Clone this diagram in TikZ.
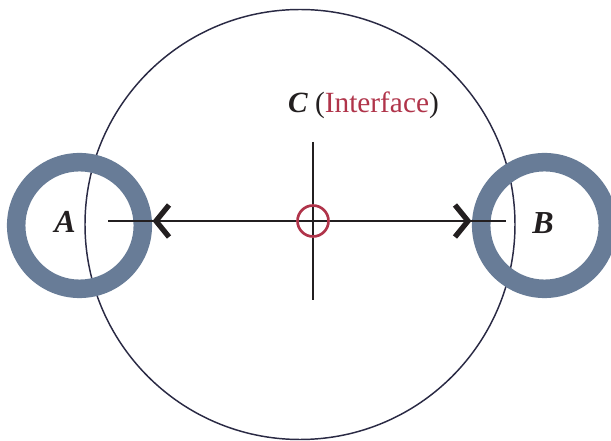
\documentclass[tikz,border=0pt]{standalone}
\usepackage{fontspec}
\setmainfont{Liberation Serif}
\definecolor{ringblue}{HTML}{687C97}
\definecolor{ifred}{HTML}{B0344A}
\definecolor{navy}{HTML}{2A2A44}
\definecolor{ink}{HTML}{231F20}

\begin{document}
\begin{tikzpicture}[x=0.75pt,y=-0.75pt,
  ring/.style={draw=ringblue,line width=13.9pt},
  axis/.style={draw=ink,line width=1.8pt},
  barb/.style={draw=ink,line width=4pt,miter limit=4},
  lbl/.style={font=\fontsize{24}{26}\selectfont\bfseries\itshape,text=ink}]
\useasboundingbox (0,0) rectangle (611,441);
% contact circle
\draw[navy,line width=1.1pt] (300,224.5) circle[radius=215];
% the two particles
\draw[ring] (79.5,225.5) circle[radius=63.3];
\draw[ring] (544.5,225.5) circle[radius=63.3];
\node[lbl] (A) at (65,222) {A};
\node[lbl] (B) at (543,223) {B};
% interface point with its cross
\coordinate (X) at (313,221);
\coordinate (Xt) at (313,142);
\coordinate (Xb) at (313,300);
\coordinate (tipA) at (156,221);
\coordinate (tipB) at (468,221);
\coordinate (endA) at (108,221);
\coordinate (endB) at (506,221);
\draw[axis] (Xt) -- (Xb);
\draw[axis] (endA) -- (endB);
% barbs on the line
\draw[barb] (169,205) -- (tipA) -- (169,237);
\draw[barb] (455,205) -- (tipB) -- (455,237);
\draw[ifred,line width=2pt] (X) circle[radius=15.5];
\node[anchor=base,font=\fontsize{22}{25}\selectfont,text=ink] (C) at (363.5,113)
  {{\bfseries\itshape C} (\textcolor{ifred}{Interface})};
\end{tikzpicture}
\end{document}
